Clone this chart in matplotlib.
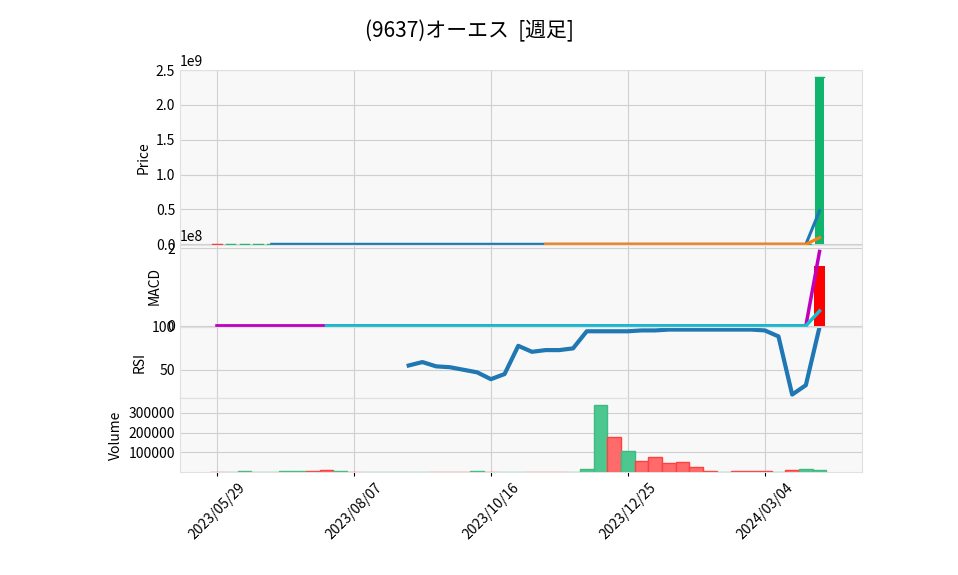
import matplotlib
matplotlib.use("Agg")
import matplotlib.pyplot as plt
import numpy as np
import pandas as pd

plt.rcParams["font.family"] = "Noto Sans CJK JP"

title = "(9637)オーエス  [週足]"
dates = pd.date_range("2023-05-29", periods=45, freq="7D")
tick_idx = [0, 10, 20, 30, 40]

opens = [3050, 3000, 3010, 3030, 3040, 3030, 3050, 3080, 3100, 3060, 3080, 3070, 3075, 3080, 3085,
         3090, 3095, 3090, 3085, 3080, 3085, 3075, 3080, 3085, 3080, 3075, 3070, 3075, 3080, 3150,
         3400, 3300, 3380, 3350, 3300, 3270, 3250, 3220, 3200, 3210, 3200, 3190, 3180, 3150, 3200]
closes = [3000, 3010, 3030, 3040, 3050, 3060, 3070, 3060, 3070, 3080, 3070, 3075, 3080, 3085, 3090,
          3095, 3090, 3085, 3080, 3085, 3075, 3080, 3085, 3080, 3075, 3070, 3075, 3080, 3150, 3400,
          3300, 3380, 3350, 3300, 3270, 3250, 3220, 3200, 3210, 3200, 3190, 3180, 3150, 3200, 2400000000]
volume = [1000, 1000, 3000, 1000, 1000, 3000, 3000, 3000, 10000, 3000, 1000, 500, 500, 500, 500,
          500, 500, 500, 500, 3000, 500, 500, 500, 500, 500, 500, 500, 15000, 340000, 175000,
          105000, 55000, 75000, 45000, 50000, 25000, 5000, 1000, 5000, 5000, 5000, 1000, 10000, 15000, 12000]
vol_up = [0, 1, 1, 1, 1, 1, 1, 0, 0, 1, 0, 1, 1, 1, 1, 1, 0, 0, 0, 1, 0, 1, 1, 0, 0, 0, 1, 1, 1, 0,
          1, 0, 0, 0, 0, 0, 0, 1, 0, 0, 0, 1, 0, 1, 1]
rsi_vals = [55, 59, 54, 53, 50, 47, 39, 45, 78, 71, 73, 73, 75, 95, 95, 95, 95, 96, 96, 97, 97, 97,
            97, 97, 97, 97, 96, 89, 21, 32, 100]
rsi_start = 14

n = len(closes)
x = np.arange(n)
c = pd.Series(closes, dtype=float)
ma5 = c.rolling(5).mean()
ma25 = c.rolling(25).mean()
macd = c.ewm(span=12, adjust=False).mean() - c.ewm(span=26, adjust=False).mean()
signal = macd.ewm(span=9, adjust=False).mean()
signal[:8] = np.nan
hist = macd - signal

bg = "#f8f8f8"
fig = plt.figure(figsize=(9.58, 5.75), dpi=100)
L, W = 180/958, 682/958
def ax_at(top, bot):
    return fig.add_axes([L, 1-bot/575, W, (bot-top)/575])
ax1 = ax_at(70, 245)
ax2 = ax_at(245, 327)
ax3 = ax_at(327, 398)
ax4 = ax_at(398, 472)
for a in (ax1, ax2, ax3, ax4):
    a.set_facecolor(bg)
    a.grid(True, color="#d0d0d0", lw=0.8)
    a.set_axisbelow(True)
    for s in a.spines.values():
        s.set_color("#e0e0e0")
    a.set_xlim(-2.7, 47.1)
    a.tick_params(length=0, labelsize=10)
    a.set_xticks(tick_idx)
    if a is not ax4:
        a.set_xticklabels([])

up_c, dn_c = "#10b46c", "#ff2a2a"
for i in range(n):
    o, cl = opens[i], closes[i]
    col = up_c if cl >= o else dn_c
    ax1.bar(x[i], abs(cl - o) if abs(cl-o) > 0 else 1, bottom=min(o, cl), width=0.7, color=col)
    ax1.plot([x[i]-0.35, x[i]+0.35], [cl, cl], color=col, lw=1)
ax1.plot(x, ma5, color="#1f77b4", lw=2.2)
ax1.plot(x, ma25, color="#ff7f0e", lw=2.2)
ax1.set_ylim(-0.01e9, 2.5e9)
ax1.set_ylabel("Price")

ax2.bar(x, hist.where(x == n-1), width=0.8, color="red")
ax2.plot(x, macd, color="#bf00bf", lw=2.5)
ax2.plot(x, signal, color="#17becf", lw=2.5)
ax2.set_ylim(-0.03e8, 2.08e8)
ax2.set_yticks([0, 2e8])
ax2.set_ylabel("MACD")

rx = np.arange(rsi_start, rsi_start + len(rsi_vals))
ax3.plot(rx, rsi_vals, color="#1f77b4", lw=3)
ax3.set_ylim(17, 100)
ax3.set_yticks([50, 100])
ax3.set_ylabel("RSI")

vcol = ["#4bc78f" if u else "#ff6b6b" for u in vol_up]
ecol = ["#3dbb80" if u else "#ff4040" for u in vol_up]
ax4.bar(x, volume, width=1.0, color=vcol, edgecolor=ecol, linewidth=1)
ax4.set_ylim(0, 375000)
ax4.set_yticks([100000, 200000, 300000])
ax4.set_ylabel("Volume")
ax4.set_xticklabels([dates[i].strftime("%Y/%m/%d") for i in tick_idx], rotation=45)
ax4.tick_params(axis="x", length=3)

fig.suptitle(title, x=0.49, y=0.965, fontsize=15)
fig.savefig("out.png", dpi=100)
